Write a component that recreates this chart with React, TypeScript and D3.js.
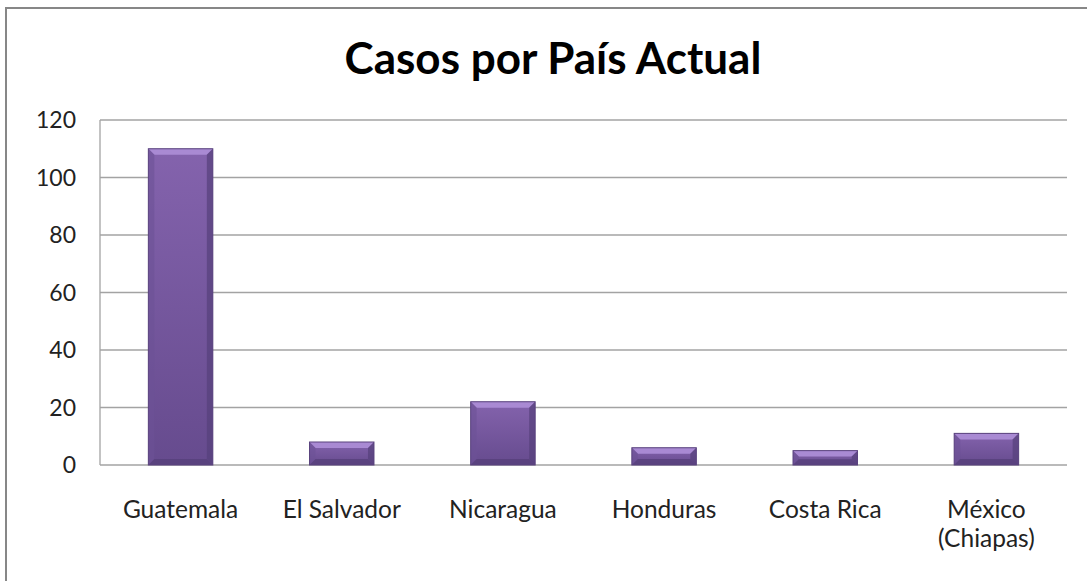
import React from "react";
import * as d3 from "d3";

const categories = ["Guatemala", "El Salvador", "Nicaragua", "Honduras", "Costa Rica", "México\n(Chiapas)"];
const values = [110, 8, 22, 6, 5, 11];
const yTicks = [0, 20, 40, 60, 80, 100, 120];
const title = "Casos por País Actual";

const W = 1087, H = 581;
const plot = { left: 100, right: 1067, top: 120, bottom: 465 };
const FONT = "Lato, 'Open Sans', sans-serif";

export default function App() {
  const x = d3.scaleBand<string>().domain(categories).range([plot.left, plot.right]).paddingInner(0.6).paddingOuter(0.3);
  const y = d3.scaleLinear().domain([0, 120]).range([plot.bottom, plot.top]);
  const bw = x.bandwidth();
  const bev = 6;
  return (
    <svg width={W} height={H} style={{ position: "absolute", left: 0, top: 0, background: "#fff" }}>
      <defs>
        <linearGradient id="face" x1="0" y1="0" x2="0" y2="1">
          <stop offset="0" stopColor="#8463ad" />
          <stop offset="1" stopColor="#664b8e" />
        </linearGradient>
      </defs>
      <rect x={6} y={8} width={W + 10} height={H + 10} fill="#fff" stroke="#878787" strokeWidth={2} />
      <text x={553} y={74} textAnchor="middle" fontFamily={FONT} fontWeight="bold" fontSize={44} fill="#000">{title}</text>
      {yTicks.map((t) => (
        <g key={t}>
          <line x1={plot.left} x2={plot.right} y1={y(t)} y2={y(t)} stroke="#a3a3a3" strokeWidth={1.3} />
          <text x={76} y={y(t)} dy="0.36em" textAnchor="end" fontFamily={FONT} fontSize={23} fill="#222">{t}</text>
        </g>
      ))}
      <line x1={plot.left} x2={plot.left} y1={plot.top} y2={plot.bottom} stroke="#a3a3a3" strokeWidth={1.3} />
      {categories.map((c, i) => {
        const x0 = x(c)!;
        const x1 = x0 + bw;
        const y0 = y(values[i]);
        const y1 = y(0);
        const b = Math.min(bev, (y1 - y0) / 2.5);
        return (
          <g key={c}>
            <rect x={x0} y={y0} width={bw} height={y1 - y0} fill="url(#face)" />
            <polygon points={`${x0},${y0} ${x1},${y0} ${x1 - b},${y0 + b} ${x0 + b},${y0 + b}`} fill="#a98ad3" />
            <polygon points={`${x0},${y0} ${x0 + b},${y0 + b} ${x0 + b},${y1 - b} ${x0},${y1}`} fill="#6d5296" opacity={0.6} />
            <polygon points={`${x1},${y0} ${x1 - b},${y0 + b} ${x1 - b},${y1 - b} ${x1},${y1}`} fill="#56407a" opacity={0.7} />
            <polygon points={`${x0},${y1} ${x0 + b},${y1 - b} ${x1 - b},${y1 - b} ${x1},${y1}`} fill="#56407a" opacity={0.8} />
            <rect x={x0} y={y0} width={bw} height={y1 - y0} fill="none" stroke="#5a437e" strokeWidth={1} />
          </g>
        );
      })}
      {categories.map((c) => {
        const lines = c.split("\n");
        const cx = x(c)! + bw / 2;
        return (
          <text key={c} x={cx} y={518} textAnchor="middle" fontFamily={FONT} fontSize={24.5} fill="#222">
            {lines.map((l, j) => (
              <tspan key={j} x={cx} dy={j === 0 ? 0 : 29}>{l}</tspan>
            ))}
          </text>
        );
      })}
    </svg>
  );
}
